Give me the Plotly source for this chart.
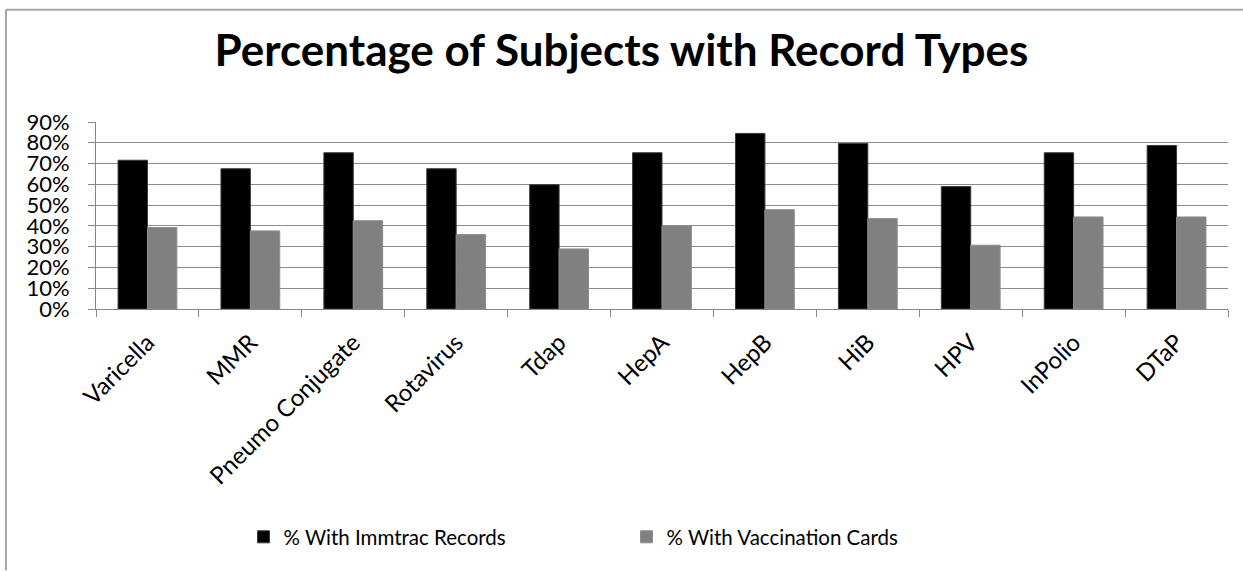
import plotly.graph_objects as go

# Vaccine categories and share of subjects with each record type
vaccines = ["Varicella", "MMR", "Pneumo Conjugate", "Rotavirus", "Tdap", "HepA",
            "HepB", "HiB", "HPV", "InPolio", "DTaP"]
immtrac_pct = [0.716, 0.675, 0.752, 0.675, 0.598, 0.752, 0.845, 0.797, 0.589, 0.752, 0.787]
card_pct = [0.392, 0.376, 0.425, 0.358, 0.289, 0.401, 0.478, 0.435, 0.307, 0.443, 0.443]

W, H = 1243, 571
L, R, T, B = 96, 15, 121.5, 262
plot_w = W - L - R
plot_h = H - T - B

FONT = "Lato"

fig = go.Figure()
fig.add_trace(go.Bar(
    x=vaccines, y=immtrac_pct, name="% With Immtrac Records",
    marker=dict(color="#000000", line=dict(color="#3a3a3a", width=1)),
))
fig.add_trace(go.Bar(
    x=vaccines, y=card_pct, name="% With Vaccination Cards",
    marker=dict(color="#808080", line=dict(color="#8c8c8c", width=1)),
))


def px_to_paper_x(px):
    return (px - L) / plot_w


def px_to_paper_y(py):
    return (H - B - py) / plot_h


# Outer chart frame: top and left edges
frame = dict(color="#a6a6a6", width=2)
fig.add_shape(type="line", xref="paper", yref="paper",
              x0=px_to_paper_x(6), x1=px_to_paper_x(W),
              y0=px_to_paper_y(9), y1=px_to_paper_y(9), line=frame, layer="below")
fig.add_shape(type="line", xref="paper", yref="paper",
              x0=px_to_paper_x(6), x1=px_to_paper_x(6),
              y0=px_to_paper_y(9), y1=px_to_paper_y(H), line=frame, layer="below")

fig.update_layout(
    width=W, height=H,
    margin=dict(l=L, r=R, t=T, b=B),
    paper_bgcolor="white", plot_bgcolor="white",
    barmode="group", bargap=0.4286, bargroupgap=0,
    title=dict(
        text="<b>Percentage of Subjects with Record Types</b>",
        font=dict(family=FONT, size=44, color="black"),
        x=0.5, xref="container", xanchor="center",
        y=1 - 51 / H, yref="container", yanchor="middle",
    ),
    font=dict(family=FONT, color="black"),
    xaxis=dict(
        type="category", tickangle=-45, tickson="boundaries",
        ticks="outside", ticklen=7, tickcolor="#868686", tickwidth=1,
        showline=True, linecolor="#868686", linewidth=1,
        showgrid=False, ticklabelstandoff=9,
        tickfont=dict(family=FONT, size=24, color="black"),
    ),
    yaxis=dict(
        range=[0, 0.9], dtick=0.1, tickformat=".0%",
        ticks="outside", ticklen=7, tickcolor="#868686", tickwidth=1,
        showline=True, linecolor="#868686", linewidth=1,
        showgrid=True, gridcolor="#8c8c8c", gridwidth=1,
        zeroline=False, ticklabelstandoff=14,
        tickfont=dict(family=FONT, size=22, color="black"),
    ),
    legend=dict(
        orientation="h", x=0.5 + 5 / W, xref="container", xanchor="center",
        y=1 - 537 / H, yref="container", yanchor="middle",
        font=dict(family=FONT, size=20.5, color="black"),
        entrywidth=338, entrywidthmode="pixels",
    ),
)

fig.write_html("out.html")
